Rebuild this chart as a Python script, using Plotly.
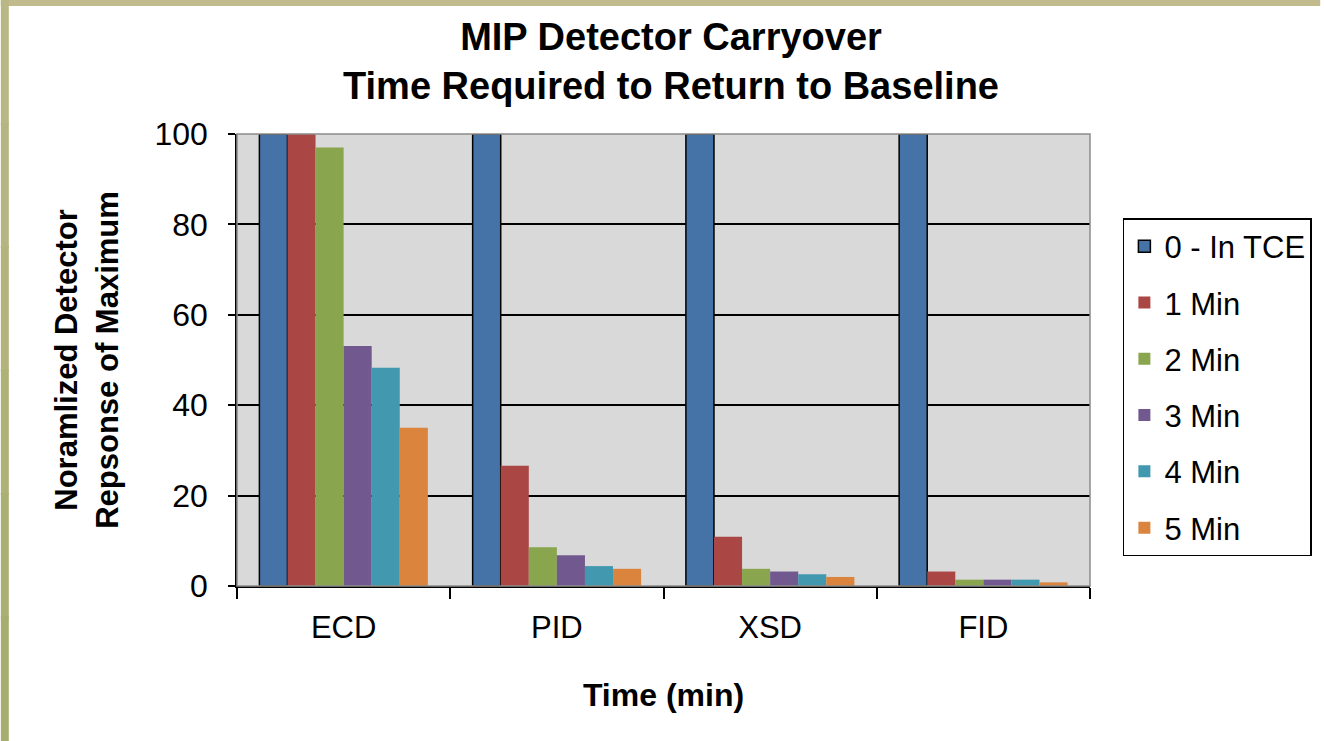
import plotly.graph_objects as go

categories = ["ECD", "PID", "XSD", "FID"]
series_names = ["0 - In TCE", "1 Min", "2 Min", "3 Min", "4 Min", "5 Min"]
values = {
    "0 - In TCE": [100, 100, 100, 100],
    "1 Min": [100, 26.6, 10.9, 3.2],
    "2 Min": [97.0, 8.6, 3.8, 1.4],
    "3 Min": [53.1, 6.8, 3.2, 1.4],
    "4 Min": [48.3, 4.4, 2.6, 1.4],
    "5 Min": [35.0, 3.8, 2.0, 0.8],
}
colors = ["#4572A7", "#AA4643", "#89A54E", "#71588F", "#4198AF", "#DB843D"]
y_ticks = [0, 20, 40, 60, 80, 100]

W, H = 1324, 741
ML, MR, MT, MB = 237, 231, 134, 155
FONT = "Liberation Sans, Arial, sans-serif"

fig = go.Figure()
for i, name in enumerate(series_names):
    fig.add_trace(go.Bar(
        name=name, x=categories, y=values[name],
        marker=dict(color=colors[i],
                    line=dict(color="#000000" if i == 0 else colors[i],
                              width=1.5 if i == 0 else 0)),
        legendgroup=name,
    ))

pw = W - ML - MR
ph = H - MT - MB
def px_x(p):
    return (p - ML) / pw
def px_y(p):
    return (H - MB - p) / ph

shapes = []
# plot area border (gray)
shapes.append(dict(type="rect", xref="x domain", yref="y domain", x0=0, x1=1, y0=0, y1=1,
                   line=dict(color="#8C8C8C", width=1.5), layer="above"))
# top frame strip
shapes.append(dict(type="rect", xref="paper", yref="paper", x0=px_x(0), x1=px_x(W),
                   y0=px_y(6), y1=px_y(0), fillcolor="#C1BB8E", line=dict(width=0), layer="above"))
# left frame strip (subtle gradient)
left_cols = ["#BAB786", "#B6B582", "#B2B37D", "#AEB178", "#AAAF73", "#A6AD6E"]
n = len(left_cols)
for k, c in enumerate(left_cols):
    shapes.append(dict(type="rect", xref="paper", yref="paper", x0=px_x(0), x1=px_x(8),
                       y0=px_y(H * (k + 1) / n) - 0.002, y1=px_y(H * k / n) + 0.002,
                       fillcolor=c, line=dict(width=0), layer="above"))

fig.update_layout(
    width=W, height=H,
    margin=dict(l=ML, r=MR, t=MT, b=MB, pad=0),
    paper_bgcolor="#FFFFFF", plot_bgcolor="#D9D9D9",
    font=dict(family=FONT, size=30, color="#000000"),
    title=dict(text="<b>MIP Detector Carryover<br>Time Required to Return to Baseline</b>",
               x=671 / W, xanchor="center", xref="container",
               y=1 - 50 / H, yanchor="middle", yref="container",
               font=dict(family=FONT, size=38, color="#000000")),
    barmode="group", bargap=0.21, bargroupgap=0,
    showlegend=True,
    legend=dict(x=px_x(1126), y=px_y(218), xanchor="left", yanchor="top",
                bordercolor="#000000", borderwidth=1.5, bgcolor="#FFFFFF",
                font=dict(family=FONT, size=31, color="#000000"),
                tracegroupgap=13, traceorder="grouped"),
    shapes=shapes,
)
fig.update_xaxes(
    type="category", showline=True, linecolor="#000000", linewidth=1.5,
    ticks="outside", tickson="boundaries", ticklen=11, tickwidth=1.5, tickcolor="#000000",
    showgrid=False, ticklabelstandoff=13,
    tickfont=dict(family=FONT, size=31),
    title=dict(text="<b>Time (min)</b>", font=dict(family=FONT, size=32), standoff=40),
)
fig.update_yaxes(
    range=[0, 100], tickvals=y_ticks, showline=True, linecolor="#000000", linewidth=1.5,
    ticks="outside", ticklen=7, tickwidth=1.5, tickcolor="#000000",
    showgrid=True, gridcolor="#000000", gridwidth=1.5, zeroline=False,
    ticklabelstandoff=14,
    tickfont=dict(family=FONT, size=32),
    title=dict(text="<b>Noramlized Detector<br>Repsonse of Maximum</b>",
               font=dict(family=FONT, size=31), standoff=27),
)

fig.write_html("out.html", config={"displayModeBar": False},
               post_script="document.body.style.margin='0';document.body.style.padding='0';"
                           "document.body.style.overflow='hidden';")
